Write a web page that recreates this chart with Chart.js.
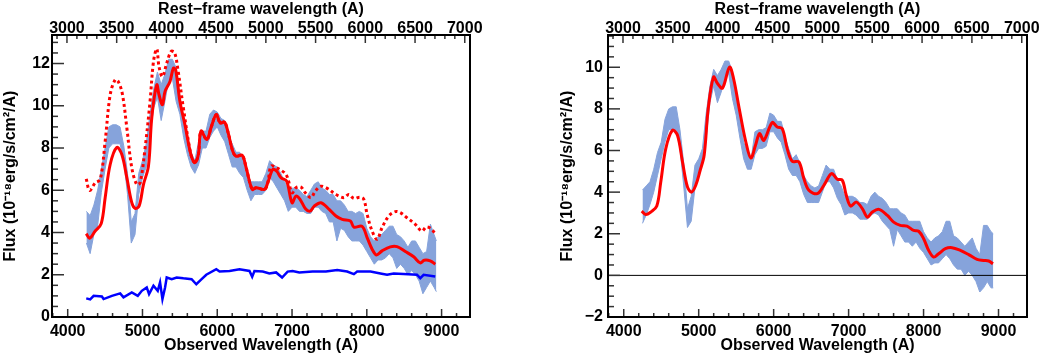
<!DOCTYPE html>
<html>
<head>
<meta charset="utf-8">
<script src="https://cdn.jsdelivr.net/npm/chart.js@4/dist/chart.umd.min.js"></script>
<style>
body{margin:0;background:#fff;}
#wrapL{position:absolute;left:0;top:0;width:520px;height:354px;}
#wrapR{position:absolute;left:520px;top:0;width:521px;height:354px;}
</style>
</head>
<body>
<div id="wrapL"><canvas id="chartL" width="520" height="354"></canvas></div>
<div id="wrapR"><canvas id="chartR" width="521" height="354"></canvas></div>
<script>
/* axes */
const X_MIN = 3790, X_MAX = 9380;
const Z = 0.33;
const obsTicks = [4000,5000,6000,7000,8000,9000];
const restTicks = [3000,3500,4000,4500,5000,5500,6000,6500,7000];
const yTicksL = [0,2,4,6,8,10,12];
const yTicksR = [-2,0,2,4,6,8,10];

/* LEFT: observed spectrum band (low/high envelope of the noisy spectrum) */
const bandWaveL = [4250,4300,4350,4400,4450,4500,4550,4600,4650,4700,4750,4800,4850,4900,4950,5000,5050,5100,5150,5200,5250,5300,5350,5400,5450,5500,5550,5600,5650,5700,5750,5800,5850,5900,5950,6000,6050,6100,6150,6200,6250,6300,6350,6400,6450,6500,6550,6600,6650,6700,6750,6800,6850,6900,6950,7000,7050,7100,7150,7200,7250,7300,7350,7400,7450,7500,7550,7600,7650,7700,7750,7800,7850,7900,7950,8000,8050,8100,8150,8200,8250,8300,8350,8400,8450,8500,8550,8600,8650,8700,8750,8800,8850,8900,8930];
const bandLowL = [3.5,3.0,3.9,4.3,5.9,7.0,8.0,8.2,8.2,8.2,7.4,5.8,3.5,3.9,5.8,6.6,7.1,8.6,9.9,10.4,9.3,10.2,11.2,11.3,10.2,9.6,8.5,7.7,7.1,6.8,7.2,8.0,8.0,8.5,8.8,9.0,8.6,8.3,7.7,7.1,7.1,6.8,6.6,6.0,5.5,5.8,5.8,5.8,6.0,6.6,6.4,6.1,5.8,5.5,5.0,5.2,5.2,5.0,5.0,4.9,4.9,5.2,5.2,5.0,4.9,4.5,4.5,3.6,4.2,4.1,3.8,3.6,3.6,3.6,3.4,3.1,2.8,2.5,2.7,2.7,2.8,3.0,2.8,2.3,2.5,2.3,2.0,2.2,2.0,1.7,1.1,1.4,1.7,1.4,1.2];
const bandHighL = [5.0,4.8,5.3,6.0,7.0,8.0,9.0,9.1,9.1,9.0,8.1,6.8,4.5,4.9,6.8,7.4,8.2,9.6,10.8,11.6,11.0,11.5,12.2,12.2,11.8,10.4,9.4,8.5,7.8,7.4,8.3,8.8,8.8,9.6,9.8,9.7,9.4,9.3,8.6,8.2,7.8,7.8,7.4,6.8,6.4,6.4,6.4,6.4,6.8,7.4,7.2,7.1,6.8,6.4,6.0,6.1,6.1,6.0,5.8,5.7,6.0,6.3,6.4,6.1,6.0,5.8,5.8,5.5,5.5,5.3,5.0,5.0,4.9,5.0,4.9,4.2,3.8,3.6,3.8,3.9,4.1,4.3,4.3,3.9,3.8,3.6,3.3,3.6,3.6,3.3,3.0,3.1,4.4,3.9,3.6];

/* LEFT: smoothed fit (solid red) */
const fitWaveL = [4248,4293,4368,4448,4501,4568,4657,4724,4791,4857,4901,4955,5013,5080,5124,5191,5221,5267,5301,5368,5413,5444,5501,5568,5648,5701,5747,5783,5861,5920,5987,6040,6097,6141,6208,6253,6333,6387,6467,6520,6631,6675,6741,6795,6853,6928,7000,7053,7107,7177,7240,7297,7387,7497,7587,7671,7781,7827,7937,8004,8071,8128,8204,8315,8404,8515,8627,8715,8768,8848,8915];
const fitFluxL = [3.95,3.73,4.07,4.42,5.65,7.22,8.03,7.69,6.59,5.41,5.14,5.25,6.27,7.14,9.42,10.99,10.52,10.05,10.67,11.15,11.78,11.70,10.2,9.10,7.69,7.30,7.69,8.8,8.40,9.0,9.58,9.18,9.23,8.79,7.84,7.61,7.66,7.06,6.04,6.12,6.04,6.35,6.98,6.90,6.59,6.43,5.41,5.72,5.57,5.14,5.01,5.25,5.41,5.09,4.78,4.62,4.54,4.26,4.29,3.76,3.21,2.94,3.13,3.32,3.33,3.10,2.85,2.56,2.69,2.66,2.50];

/* LEFT: dotted red model */
const dotWaveL = [4248,4293,4368,4435,4501,4568,4635,4680,4733,4791,4857,4924,4968,5035,5101,5147,5191,5221,5267,5324,5381,5427,5471,5547,5648,5701,5747,5783,5861,5920,5987,6040,6097,6141,6208,6253,6333,6387,6467,6520,6631,6675,6720,6795,6897,6941,7000,7053,7120,7177,7253,7311,7387,7475,7587,7693,7760,7827,7907,7960,8004,8071,8137,8204,8293,8382,8448,8537,8648,8737,8795,8857,8915];
const dotFluxL = [6.54,5.99,6.35,6.51,8.32,10.52,11.23,11.12,10.52,8.95,7.06,6.27,6.35,8.00,10.2,12.09,12.69,11.85,11.38,12.01,12.56,12.53,11.78,9.89,7.69,7.30,7.69,8.8,8.40,9.0,9.58,9.18,9.23,8.79,7.84,7.61,7.66,7.06,6.04,6.12,6.04,6.35,7.14,7.06,6.83,6.59,5.88,6.12,6.15,5.88,5.65,5.96,6.19,6.08,5.80,5.65,5.80,5.61,5.67,5.57,4.86,4.07,3.68,4.23,4.78,4.99,4.94,4.70,4.39,4.07,4.26,4.18,3.95];

/* LEFT: host galaxy (blue) */
const hostWave = [4248,4301,4347,4457,4480,4591,4702,4746,4857,4937,4991,5057,5088,5147,5204,5235,5267,5302,5324,5391,5457,5547,5657,5720,5791,5853,5987,6031,6164,6297,6431,6467,6497,6608,6697,6787,6867,6941,7008,7097,7275,7453,7604,7737,7827,7871,8049,8182,8271,8360,8493,8671,8715,8760,8915];
const hostFlux = [0.88,0.83,1.0,0.97,0.85,1.0,1.12,0.93,1.16,1.0,1.24,1.40,1.08,1.48,1.24,1.64,0.85,1.40,1.87,1.79,1.87,1.83,1.79,1.55,1.79,2.0,2.26,2.15,2.18,2.26,2.18,1.90,2.18,2.15,2.06,2.11,1.87,2.15,2.18,2.11,2.15,2.15,2.22,2.15,2.03,2.15,2.15,2.06,2.0,2.06,2.03,2.0,1.84,2.0,1.92];

/* RIGHT: host-subtracted spectrum band */
const bandWaveR = bandWaveL;
const bandLowR = [2.5,2.9,3.4,4.0,4.8,5.6,6.4,7.0,7.0,7.0,6.1,4.3,2.3,2.6,4.2,5.0,5.3,6.6,8.3,9.1,8.3,8.8,9.5,9.7,8.5,7.7,6.6,5.6,5.1,5.1,5.8,6.1,6.1,6.2,6.9,6.9,6.6,6.4,5.8,5.1,4.8,4.8,4.5,3.9,3.5,3.5,3.5,3.5,4.0,4.5,4.5,4.2,3.7,3.4,2.9,3.0,3.0,2.9,2.7,2.7,2.7,2.9,3.0,2.9,2.6,2.4,2.2,1.4,2.2,1.9,1.6,1.6,1.4,1.6,1.3,1.1,0.8,0.5,0.6,0.6,0.8,1.0,0.8,0.5,0.3,0.3,0.0,0.2,0.0,-0.3,-0.8,-0.6,-0.3,-0.6,-0.6];
const bandHighR = [4.1,4.3,4.5,5.1,5.9,6.4,7.5,8.0,8.1,8.1,7.0,5.4,3.2,3.8,5.3,5.6,6.1,7.8,9.1,9.9,9.6,9.9,10.3,10.3,9.8,8.6,7.5,6.4,5.9,5.6,6.9,7.0,7.0,7.1,7.8,7.7,7.4,7.4,6.7,6.1,5.6,5.8,5.4,4.8,4.5,4.3,4.2,4.3,4.8,5.3,5.1,5.1,4.6,4.3,3.8,3.8,3.8,3.7,3.5,3.5,3.4,3.8,4.0,3.8,3.7,3.5,3.2,3.2,3.2,3.0,2.9,2.6,2.6,2.6,2.6,2.1,1.8,1.6,1.8,1.9,2.1,2.6,2.6,1.9,1.8,1.6,1.4,1.6,1.8,1.3,1.0,2.4,2.4,2.1,2.0];

/* RIGHT: smoothed fit */
const fitWaveR = [4240,4294,4360,4441,4494,4561,4650,4717,4784,4850,4904,4961,5020,5073,5127,5198,5251,5318,5411,5465,5541,5629,5696,5758,5812,5869,5981,6048,6115,6181,6248,6337,6403,6470,6582,6670,6773,6849,6916,6969,7027,7103,7183,7250,7316,7405,7517,7601,7690,7779,7868,7935,8001,8068,8135,8201,8291,8379,8491,8602,8713,8802,8869,8926];
const fitFluxR = [3.09,2.92,3.04,3.33,4.49,6.09,6.97,6.73,5.45,4.25,4.0,4.33,5.05,5.77,8.01,9.53,9.22,9.0,10.01,9.46,8.01,6.41,5.64,6.25,6.81,6.49,7.34,7.13,7.05,6.09,5.48,5.45,4.65,4.09,3.93,4.33,4.89,4.62,4.57,3.85,3.33,3.52,3.21,2.80,3.04,3.17,2.88,2.56,2.40,2.37,2.16,2.12,1.76,1.20,0.88,1.04,1.28,1.33,1.20,1.0,0.77,0.72,0.69,0.56];

const FONT = "'Liberation Sans', Arial, Helvetica, sans-serif";
const tickFont = {family:FONT, size:16, weight:'bold'};
const titleFont = {family:FONT, size:16, weight:'bold', lineHeight:1};
const BAND = '#86a3db';
const TOP_TITLE = 'Rest\u2212frame wavelength (A)';

function pts(xs, ys){
return xs.map((x,i)=>({x:x, y:ys[i]}));
}

function fmt(v){
return v < 0 ? '\u2212' + Math.abs(v) : String(v);
}

/* inward ROOT-like ticks, frame and top title */
const frameTicks = {
id:'frameTicks',
afterDatasetsDraw(chart, args, opts){
const ctx = chart.ctx, a = chart.chartArea;
ctx.save();
ctx.strokeStyle = '#333';
ctx.lineWidth = 1.5;
['x','x2','y'].forEach(function(id){
const s = chart.scales[id], t = opts[id];
const start = Math.ceil(s.min / t.minor - 1e-9);
const end = Math.floor(s.max / t.minor + 1e-9);
for(let i = start; i <= end; i++){
const v = i * t.minor;
const r = v / t.major;
const len = Math.abs(r - Math.round(r)) < 1e-6 ? t.majorLen : t.minorLen;
const p = s.getPixelForValue(v);
ctx.beginPath();
if(id === 'x'){ ctx.moveTo(p, a.bottom); ctx.lineTo(p, a.bottom - len); }
else if(id === 'x2'){ ctx.moveTo(p, a.top); ctx.lineTo(p, a.top + len); }
else { ctx.moveTo(a.left, p); ctx.lineTo(a.left + len, p); }
ctx.stroke();
}
});
ctx.strokeStyle = '#000';
ctx.lineWidth = 2;
ctx.strokeRect(a.left, a.top, a.right - a.left, a.bottom - a.top);

/* title of the rest-frame axis */
ctx.fillStyle = '#000';
ctx.font = 'bold 16px ' + FONT;
ctx.textAlign = 'center';
ctx.textBaseline = 'alphabetic';
ctx.fillText(opts.topTitle, (a.left + a.right) / 2, 14);
ctx.restore();
}
};

function makePanel(canvasId, datasets, yMin, yMax, yTicks, padLeft, yWidth, padRight, yLabelPad){
return new Chart(document.getElementById(canvasId), {
type:'line',
data:{datasets:datasets},
options:{
responsive:false,
animation:false,
layout:{padding:{left:padLeft, right:padRight, top:0, bottom:0}},
plugins:{
legend:{display:false},
tooltip:{enabled:false},
frameTicks:{
topTitle:TOP_TITLE,
x:{major:1000, minor:200, majorLen:8, minorLen:4},
x2:{major:500, minor:100, majorLen:8, minorLen:4},
y:{major:2, minor:0.5, majorLen:12, minorLen:6}
}
},
scales:{
x:{
type:'linear', position:'bottom', min:X_MIN, max:X_MAX,
afterBuildTicks: s => { s.ticks = obsTicks.map(v => ({value:v})); },
afterFit: s => { s.height = 37; },
grid:{display:false, drawTicks:false}, border:{display:false},
ticks:{padding:5, font:tickFont, color:'#000', maxRotation:0, autoSkip:false, callback:fmt},
title:{display:true, text:'Observed Wavelength (A)', font:titleFont, color:'#000', padding:{top:0,bottom:0}}
},
x2:{
type:'linear', position:'top', min:X_MIN/(1+Z), max:X_MAX/(1+Z),
afterBuildTicks: s => { s.ticks = restTicks.map(v => ({value:v})); },
afterFit: s => { s.height = 35; },
grid:{display:false, drawTicks:false}, border:{display:false},
ticks:{padding:-3, font:tickFont, color:'#000', maxRotation:0, autoSkip:false, callback:fmt},
title:{display:false}
},
y:{
type:'linear', position:'left', min:yMin, max:yMax,
afterBuildTicks: s => { s.ticks = yTicks.map(v => ({value:v})); },
afterFit: s => { s.width = yWidth; },
grid:{display:false, drawTicks:false}, border:{display:false},
ticks:{padding:yLabelPad, font:tickFont, color:'#000', callback:fmt},
title:{display:true, text:'Flux (10\u207B\u00B9\u2078erg/s/cm\u00B2/A)', font:titleFont, color:'#000', padding:{top:3,bottom:0}}
}
}
},
plugins:[frameTicks]
});
}

/* LEFT PANEL */
makePanel('chartL', [
{data:pts(fitWaveL, fitFluxL), borderColor:'#ff0000', borderWidth:3, pointRadius:0, tension:0.35, fill:false, order:1},
{data:pts(dotWaveL, dotFluxL), borderColor:'#ff0000', borderWidth:3, borderDash:[3,3], pointRadius:0, tension:0.35, fill:false, order:2},
{data:pts(hostWave, hostFlux), borderColor:'#0000ff', borderWidth:2.5, pointRadius:0, tension:0, fill:false, order:3},
{data:pts(bandWaveL, bandHighL), borderColor:BAND, borderWidth:1, pointRadius:0, tension:0, fill:'+1', backgroundColor:BAND, order:4},
{data:pts(bandWaveL, bandLowL), borderColor:BAND, borderWidth:1, pointRadius:0, tension:0, fill:false, order:5}
], 0, 13.35, yTicksL, 0, 52, 50, 2);

/* RIGHT PANEL */
makePanel('chartR', [
{data:pts(fitWaveR, fitFluxR), borderColor:'#ff0000', borderWidth:3, pointRadius:0, tension:0.35, fill:false, order:1},
{data:pts([X_MIN, X_MAX], [0, 0]), borderColor:'#000', borderWidth:1, pointRadius:0, tension:0, fill:false, order:2},
{data:pts(bandWaveR, bandHighR), borderColor:BAND, borderWidth:1, pointRadius:0, tension:0, fill:'+1', backgroundColor:BAND, order:3},
{data:pts(bandWaveR, bandLowR), borderColor:BAND, borderWidth:1, pointRadius:0, tension:0, fill:false, order:4}
], -2, 11.55, yTicksR, 37, 51, 14, 5);
</script>
</body>
</html>
